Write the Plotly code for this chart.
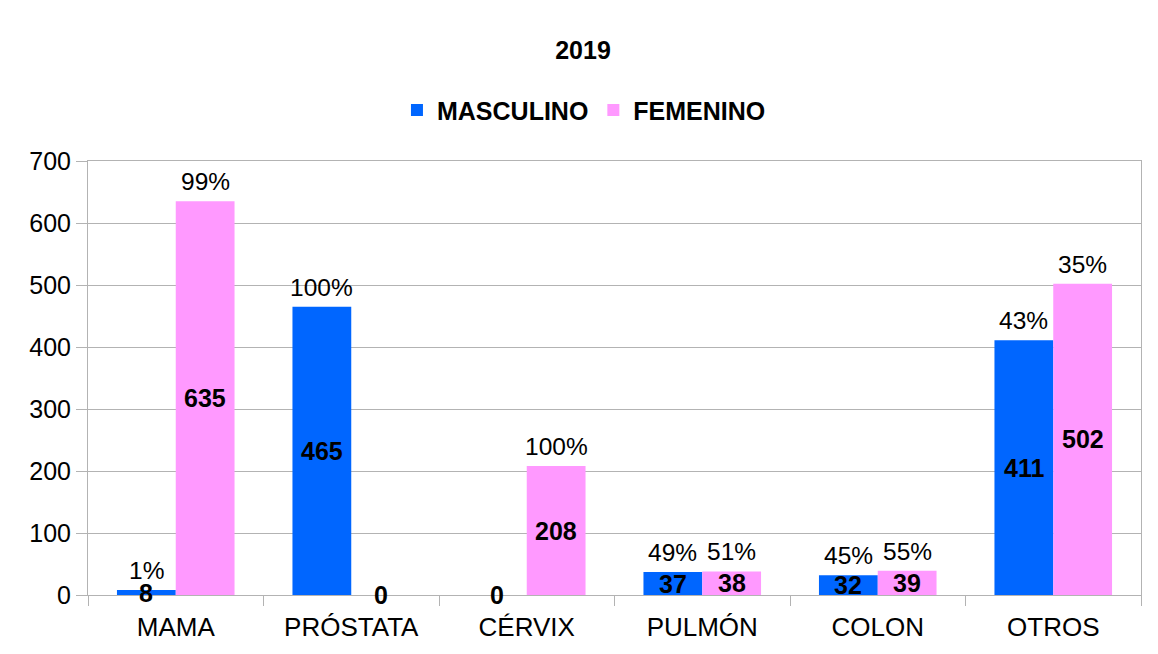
import plotly.graph_objects as go

categorias = ["MAMA", "PRÓSTATA", "CÉRVIX", "PULMÓN", "COLON", "OTROS"]
masculino = [8, 465, 0, 37, 32, 411]
femenino = [635, 0, 208, 38, 39, 502]
pct_masculino = ["1%", "100%", "", "49%", "45%", "43%"]
pct_femenino = ["99%", "", "100%", "51%", "55%", "35%"]
y_ticks = [0, 100, 200, 300, 400, 500, 600, 700]

AZUL = "#0066FF"
ROSA = "#FF99FF"
GRIS = "#B3B3B3"
FONT = "Liberation Sans"

fig = go.Figure()
fig.add_trace(go.Bar(name="<b>MASCULINO</b>", x=categorias, y=masculino, marker_color=AZUL,
                     marker_line_width=0))
fig.add_trace(go.Bar(name="<b>FEMENINO</b>", x=categorias, y=femenino, marker_color=ROSA,
                     marker_line_width=0))

bargap = 0.33
off = (1 - bargap) / 4
ann = []
for i, cat in enumerate(categorias):
    for val, pct, dx in ((masculino[i], pct_masculino[i], -off), (femenino[i], pct_femenino[i], off)):
        ann.append(dict(x=i + dx, y=val / 2, xref="x", yref="y", text="<b>%d</b>" % val,
                        showarrow=False, yanchor="middle",
                        font=dict(family=FONT, size=25, color="black")))
        if pct:
            ann.append(dict(x=i + dx, y=val, xref="x", yref="y", text=pct,
                            showarrow=False, yanchor="bottom", yshift=4,
                            font=dict(family=FONT, size=24.5, color="black")))

fig.update_layout(
    width=1150, height=646,
    barmode="group", bargap=bargap, bargroupgap=0,
    paper_bgcolor="white", plot_bgcolor="white",
    margin=dict(l=80, r=17, t=153, b=57),
    font=dict(family=FONT, size=24, color="black"),
    title=dict(text="<b>2019</b>", x=0.5, xref="container", xanchor="center",
               y=0.935, yref="container", yanchor="middle",
               font=dict(family=FONT, size=25, color="black")),
    legend=dict(orientation="h", x=0.471, xanchor="center", y=1.117, yanchor="middle",
                font=dict(family=FONT, size=25, color="black"), traceorder="normal",
                bgcolor="rgba(0,0,0,0)"),
    showlegend=True,
    annotations=ann,
)
fig.update_xaxes(type="category", showline=True, linecolor=GRIS, linewidth=1, mirror=True,
                 ticks="outside", tickson="boundaries", ticklen=10, tickcolor=GRIS,
                 ticklabelstandoff=9,
                 showgrid=False, tickfont=dict(family=FONT, size=26, color="black"))
fig.update_yaxes(range=[0, 700], tickvals=y_ticks, showline=True, linecolor=GRIS, linewidth=1,
                 mirror=True, ticks="outside", ticklen=11, tickcolor=GRIS,
                 showgrid=True, gridcolor=GRIS, gridwidth=1, zeroline=False,
                 tickfont=dict(family=FONT, size=25, color="black"))

fig.write_html("out.html")
